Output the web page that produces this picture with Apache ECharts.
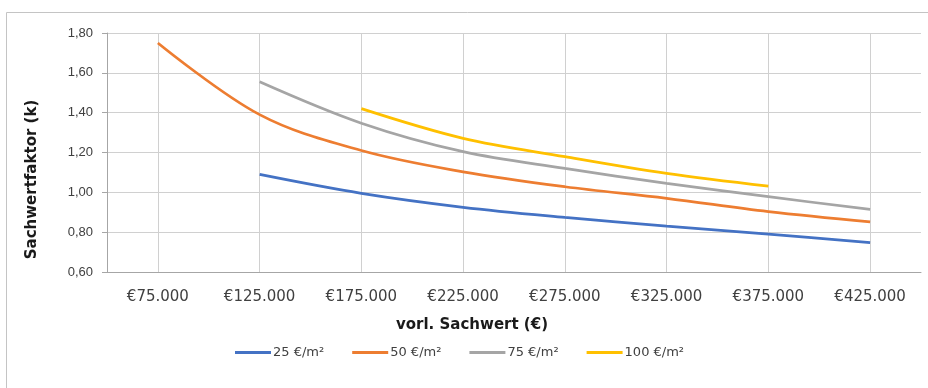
<!DOCTYPE html>
<html>
<head>
<meta charset="utf-8">
<style>
  html, body { margin: 0; padding: 0; background: #fff; }
  #chart { width: 928px; height: 388px; }
</style>
<script src="https://cdn.jsdelivr.net/npm/echarts@6/dist/echarts.min.js"></script>
</head>
<body>
<div id="chart"></div>
<script>
// Preliminary building value (EUR) at which each factor is given
const sachwerte = [75000, 125000, 175000, 225000, 275000, 325000, 375000, 425000];

// Sachwertfaktor per land value (€/m²)
const faktor25  = [null, 1.09, 0.995, 0.925, 0.874, 0.83, 0.79, 0.747];
const faktor50  = [1.75, 1.39, 1.21, 1.103, 1.028, 0.97, 0.903, 0.852];
const faktor75  = [null, 1.555, 1.347, 1.204, 1.12, 1.045, 0.978, 0.914];
const faktor100 = [null, null, 1.42, 1.271, 1.179, 1.095, 1.031, null];

const seriesNames = ['25 €/m²', '50 €/m²', '75 €/m²', '100 €/m²'];
const yTicks = [0.6, 0.8, 1.0, 1.2, 1.4, 1.6, 1.8];

const colors = ['#4472C4', '#ED7D31', '#A5A5A5', '#FFC000'];
const FONT = '"Liberation Sans", Arial, sans-serif';
const WIDE = '"DejaVu Sans", "Liberation Sans", sans-serif';

function pairs(values) {
  return sachwerte.map((x, i) => [x, values[i]]).filter(p => p[1] !== null);
}

function euro(v) {
  return '€' + String(Math.round(v)).replace(/\B(?=(\d{3})+(?!\d))/g, '.');
}

const chart = echarts.init(document.getElementById('chart'), null, { renderer: 'canvas' });

chart.setOption({
  animation: false,
  backgroundColor: '#ffffff',
  color: colors,
  textStyle: { fontFamily: FONT },
  graphic: [{
    type: 'rect',
    shape: { x: 6.5, y: 12.5, width: 940, height: 400 },
    style: { fill: 'none', stroke: '#c4c4c4', lineWidth: 1 },
    silent: true
  }],
  grid: { left: 107, right: 7, top: 33, bottom: 116, containLabel: false },
  legend: {
    left: 235,
    top: 346,
    padding: 0,
    icon: 'rect',
    itemWidth: 36,
    itemHeight: 3,
    itemGap: 28,
    textStyle: { fontFamily: WIDE, fontSize: 13, color: '#404040', padding: [0, 0, 0, -3] },
    data: seriesNames
  },
  xAxis: {
    type: 'value',
    min: 50000,
    max: 450000,
    name: 'vorl. Sachwert (€)',
    nameLocation: 'middle',
    nameGap: 46,
    nameTextStyle: {
      fontFamily: WIDE, fontSize: 15, fontWeight: 'bold', color: '#1a1a1a',
      padding: [0, 84, 0, 0]
    },
    axisLine: { show: true, lineStyle: { color: '#a6a6a6', width: 1 } },
    axisTick: { show: false, customValues: sachwerte },
    axisLabel: {
      customValues: sachwerte,
      margin: 18,
      fontSize: 15,
      color: '#404040',
      fontFamily: WIDE,
      formatter: euro
    },
    splitLine: { show: true, lineStyle: { color: '#d0d0d0', width: 1 } }
  },
  yAxis: {
    type: 'value',
    min: 0.6,
    max: 1.8,
    name: 'Sachwertfaktor (k)',
    nameLocation: 'middle',
    nameGap: 67,
    nameTextStyle: {
      fontFamily: WIDE, fontSize: 15, fontWeight: 'bold', color: '#1a1a1a',
      padding: [0, 54, 0, 0]
    },
    axisLine: { show: true, lineStyle: { color: '#a6a6a6', width: 1 } },
    axisTick: { show: true, length: 5, customValues: yTicks, lineStyle: { color: '#a6a6a6' } },
    axisLabel: {
      customValues: yTicks,
      margin: 14,
      fontSize: 13,
      color: '#404040',
      fontFamily: FONT,
      formatter: v => v.toFixed(2).replace('.', ',')
    },
    splitLine: { show: true, lineStyle: { color: '#d0d0d0', width: 1 } }
  },
  series: [faktor25, faktor50, faktor75, faktor100].map((vals, i) => ({
    name: seriesNames[i],
    type: 'line',
    data: pairs(vals),
    smooth: 0.35,
    symbol: 'none',
    lineStyle: { width: 2.75, color: colors[i] },
    z: 2 + i
  }))
});
</script>
</body>
</html>
